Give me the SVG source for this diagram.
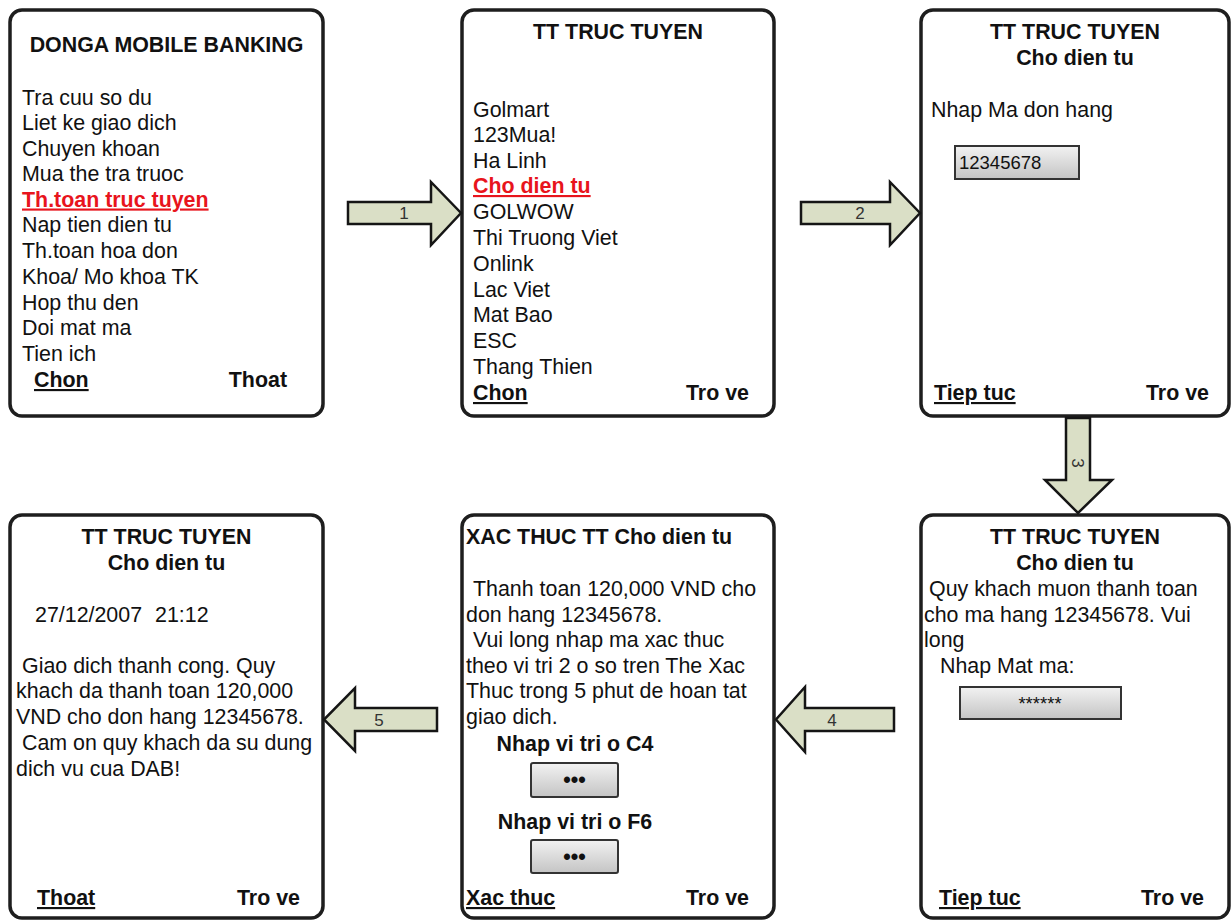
<svg xmlns="http://www.w3.org/2000/svg" width="1232" height="921" viewBox="0 0 1232 921">
<defs>
<linearGradient id="boxg" x1="0" y1="0" x2="0" y2="1">
<stop offset="0" stop-color="#f2f2f2"/>
<stop offset="1" stop-color="#c4c4c4"/>
</linearGradient>
</defs>
<style>
.scr{fill:#fff;stroke:#1e1e1e;stroke-width:3.5}
text{font-family:"Liberation Sans",Arial,sans-serif;font-size:21.4px;fill:#111}
.b{font-weight:bold}
.c{text-anchor:middle}
.r{text-anchor:end}
.u{text-decoration:underline}
.red{fill:#e8141c;font-weight:bold;text-decoration:underline}
.arr{fill:#dadfc6;stroke:#151515;stroke-width:2.5;stroke-linejoin:miter}
.al{font-size:17px;fill:#333}
.inp{fill:url(#boxg);stroke:#333;stroke-width:2}
.sm{font-size:18.5px}
</style>
<rect width="1232" height="921" fill="#fff"/>

<g id="screen1">
<rect class="scr" x="10" y="10" width="313" height="406" rx="12"/>
<text class="b c" x="166.5" y="52">DONGA MOBILE BANKING</text>
<text x="22" y="104.5">Tra cuu so du</text>
<text x="22" y="130">Liet ke giao dich</text>
<text x="22" y="155.5">Chuyen khoan</text>
<text x="22" y="181">Mua the tra truoc</text>
<text class="red" x="22" y="206.5">Th.toan truc tuyen</text>
<text x="22" y="232">Nap tien dien tu</text>
<text x="22" y="258">Th.toan hoa don</text>
<text x="22" y="284">Khoa/ Mo khoa TK</text>
<text x="22" y="309.5">Hop thu den</text>
<text x="22" y="335">Doi mat ma</text>
<text x="22" y="361">Tien ich</text>
<text class="b u" x="34" y="387">Chon</text>
<text class="b r" x="287" y="387">Thoat</text>
</g>

<g id="screen2">
<rect class="scr" x="462" y="10" width="312" height="406" rx="12"/>
<text class="b c" x="618" y="39">TT TRUC TUYEN</text>
<text x="473" y="116.5">Golmart</text>
<text x="473" y="142">123Mua!</text>
<text x="473" y="167.5">Ha Linh</text>
<text class="red" x="473" y="193">Cho dien tu</text>
<text x="473" y="219">GOLWOW</text>
<text x="473" y="245">Thi Truong Viet</text>
<text x="473" y="271">Onlink</text>
<text x="473" y="296.5">Lac Viet</text>
<text x="473" y="322">Mat Bao</text>
<text x="473" y="348">ESC</text>
<text x="473" y="374">Thang Thien</text>
<text class="b u" x="473" y="400">Chon</text>
<text class="b r" x="749" y="400">Tro ve</text>
</g>

<g id="screen3">
<rect class="scr" x="921" y="10" width="308" height="406" rx="12"/>
<text class="b c" x="1075" y="39">TT TRUC TUYEN</text>
<text class="b c" x="1075" y="65">Cho dien tu</text>
<text x="931" y="116.5">Nhap Ma don hang</text>
<rect class="inp" x="955" y="146" width="124" height="33"/>
<text class="sm" x="959" y="169">12345678</text>
<text class="b u" x="934" y="400">Tiep tuc</text>
<text class="b r" x="1209" y="400">Tro ve</text>
</g>

<g id="screen4">
<rect class="scr" x="921" y="515" width="308" height="403" rx="12"/>
<text class="b c" x="1075" y="544">TT TRUC TUYEN</text>
<text class="b c" x="1075" y="570">Cho dien tu</text>
<text x="929" y="596">Quy khach muon thanh toan</text>
<text x="924" y="621.5">cho ma hang 12345678. Vui</text>
<text x="924" y="647">long</text>
<text x="940" y="673">Nhap Mat ma:</text>
<rect class="inp" x="960" y="687" width="161" height="32"/>
<text class="sm c" x="1040" y="710">******</text>
<text class="b u" x="939" y="905">Tiep tuc</text>
<text class="b r" x="1204" y="905">Tro ve</text>
</g>

<g id="screen5">
<rect class="scr" x="462" y="515" width="312" height="403" rx="12"/>
<text class="b" x="466" y="544">XAC THUC TT Cho dien tu</text>
<text x="473" y="596">Thanh toan 120,000 VND cho</text>
<text x="466" y="621.5">don hang 12345678.</text>
<text x="473" y="647">Vui long nhap ma xac thuc</text>
<text x="466" y="672.5">theo vi tri 2 o so tren The Xac</text>
<text x="466" y="698">Thuc trong 5 phut de hoan tat</text>
<text x="466" y="724">giao dich.</text>
<text class="b c" x="575" y="751">Nhap vi tri o C4</text>
<rect class="inp" x="531" y="763" width="87" height="34" rx="2"/>
<text class="b c" x="574.5" y="787">•••</text>
<text class="b c" x="575" y="829">Nhap vi tri o F6</text>
<rect class="inp" x="531" y="840" width="87" height="33" rx="2"/>
<text class="b c" x="574.5" y="864">•••</text>
<text class="b u" x="466" y="905">Xac thuc</text>
<text class="b r" x="749" y="905">Tro ve</text>
</g>

<g id="screen6">
<rect class="scr" x="10" y="515" width="313" height="403" rx="12"/>
<text class="b c" x="166.5" y="544">TT TRUC TUYEN</text>
<text class="b c" x="166.5" y="570">Cho dien tu</text>
<text x="35" y="621.5">27/12/2007</text>
<text x="155" y="621.5">21:12</text>
<text x="22" y="673">Giao dich thanh cong. Quy</text>
<text x="16" y="698">khach da thanh toan 120,000</text>
<text x="16" y="724">VND cho don hang 12345678.</text>
<text x="22" y="750">Cam on quy khach da su dung</text>
<text x="16" y="776">dich vu cua DAB!</text>
<text class="b u" x="37" y="905">Thoat</text>
<text class="b r" x="300" y="905">Tro ve</text>
</g>

<g id="connectors">
<g id="arrow1">
<polygon class="arr" points="348,202 431,202 431,182 461,213 431,245 431,224 348,224"/>
<text class="al c" x="404" y="219">1</text>
</g>
<g id="arrow2">
<polygon class="arr" points="801,202 890,202 890,182 920,213 890,245 890,224 801,224"/>
<text class="al c" x="860" y="219">2</text>
</g>
<g id="arrow3">
<polygon class="arr" points="1066,418 1090,418 1090,480 1112,480 1078,513 1045,480 1066,480"/>
<text class="al c" x="1078" y="463" transform="rotate(90 1078 463)" dy="6">3</text>
</g>
<g id="arrow4">
<polygon class="arr" points="894,708 805,708 805,687 776,719.5 805,752 805,731 894,731"/>
<text class="al c" x="832" y="726">4</text>
</g>
<g id="arrow5">
<polygon class="arr" points="437,708 355,708 355,688 324,719.5 355,751 355,731 437,731"/>
<text class="al c" x="379" y="726">5</text>
</g>
</g>
</svg>
